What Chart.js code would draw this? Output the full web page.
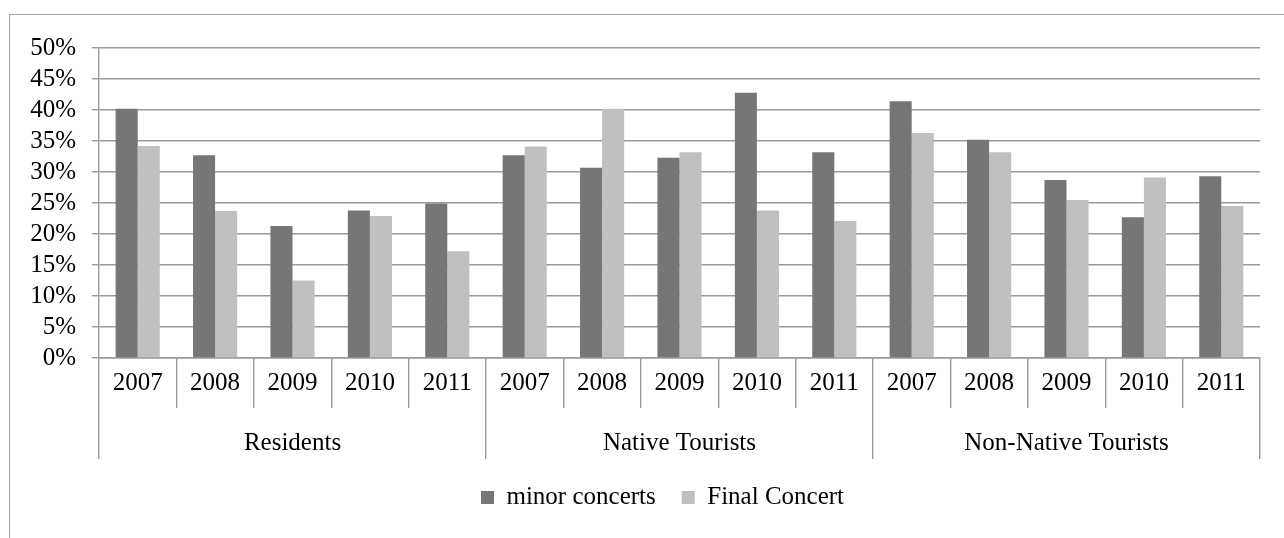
<!DOCTYPE html>
<html lang="en">
<head>
  <meta charset="UTF-8" />
  <title>Concert attendance by visitor type</title>
  <style>
    body { margin: 0; background: #fff; }
    .wrap { position: relative; width: 1284px; height: 538px; }
    .frame {
      position: absolute; left: 9px; top: 14px; right: 0; bottom: 0;
      border-left: 1px solid #a6a6a6; border-top: 1px solid #a6a6a6;
    }
    canvas { position: absolute; left: 0; top: 0; }
  </style>
</head>
<body>
  <div class="wrap">
    <div class="frame"></div>
    <canvas id="chart" width="1284" height="538"></canvas>
  </div>

  <script src="https://cdn.jsdelivr.net/npm/chart.js"></script>
  <script>
    const groups = ['Residents', 'Native Tourists', 'Non-Native Tourists'];
    const years = ['2007', '2008', '2009', '2010', '2011'];
    const minorConcerts = [40.2, 32.7, 21.3, 23.8, 24.9, 32.7, 30.7, 32.3, 42.8, 33.2, 41.4, 35.2, 28.7, 22.7, 29.3];
    const finalConcert  = [34.2, 23.7, 12.5, 22.9, 17.2, 34.1, 40.2, 33.2, 23.8, 22.1, 36.3, 33.2, 25.5, 29.1, 24.5];
    const yMax = 50, yStep = 5;

    // one year label per bar pair, repeated for each group
    const labels = groups.flatMap(() => years);

    Chart.defaults.font.family = "'Liberation Serif', 'Times New Roman', serif";
    Chart.defaults.font.size = 25;
    Chart.defaults.color = '#000';

    const lineGray = '#9a9a9a';

    // legend in the original sits a bit left of the plot centre
    const legendNudge = {
      id: 'legendNudge',
      afterLayout(chart) {
        chart.legend.left -= 17;
        chart.legend.right -= 17;
      }
    };

    new Chart(document.getElementById('chart'), {
      type: 'bar',
      data: {
        labels: labels,
        datasets: [
          { label: 'minor concerts', data: minorConcerts, backgroundColor: '#767676', borderWidth: 0 },
          { label: 'Final Concert', data: finalConcert, backgroundColor: '#c0c0c0', borderWidth: 0 }
        ]
      },
      options: {
        responsive: false,
        animation: false,
        layout: { padding: { top: 48, left: 30, right: 24, bottom: 18 } },
        datasets: { bar: { categoryPercentage: 0.57, barPercentage: 1 } },
        scales: {
          y: {
            min: 0,
            max: yMax,
            afterFit: s => { s.width = 69; },
            ticks: { stepSize: yStep, autoSkip: false, padding: 16, callback: v => v + '%' },
            grid: { color: lineGray, lineWidth: 1.4, tickLength: 7 },
            border: { color: lineGray, width: 1.4 }
          },
          x: {
            weight: 0,
            afterFit: s => { s.height = 50; },
            ticks: { padding: -40, maxRotation: 0, autoSkip: false },
            grid: { offset: true, drawOnChartArea: false, tickLength: 50, color: lineGray, lineWidth: 1.4 },
            border: { color: lineGray, width: 1.4 }
          },
          x2: {
            type: 'category',
            position: 'bottom',
            weight: 1,
            labels: groups,
            offset: true,
            afterFit: s => { s.height = 51; },
            ticks: { padding: -31, maxRotation: 0, autoSkip: false },
            grid: { offset: true, drawOnChartArea: false, tickLength: 51, color: lineGray, lineWidth: 1.4 },
            border: { display: false }
          }
        },
        plugins: {
          tooltip: { enabled: false },
          legend: {
            position: 'bottom',
            fullSize: false,
            labels: { boxWidth: 13, boxHeight: 13, padding: 26, font: { size: 25 } }
          }
        }
      },
      plugins: [legendNudge]
    });
  </script>
</body>
</html>
